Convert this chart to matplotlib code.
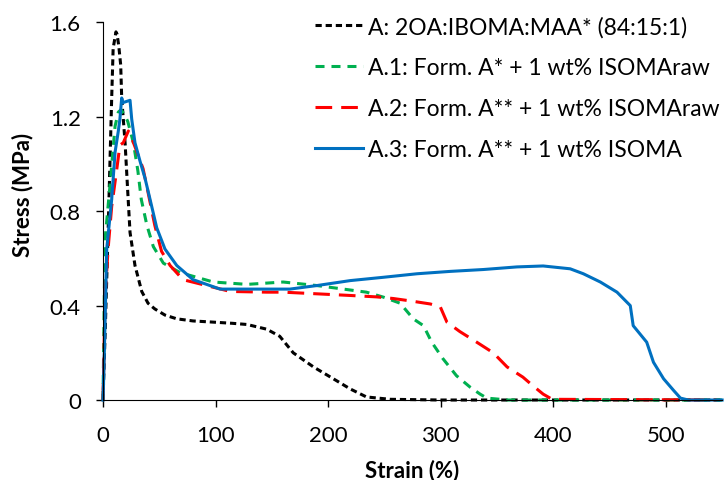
import matplotlib.pyplot as plt

plt.rcParams['font.family'] = ['Lato', 'DejaVu Sans']
plt.rcParams['lines.scale_dashes'] = False

# stress-strain curves (strain in %, stress in MPa)
strain_a = [0, 2, 4.5, 7.7, 9, 11.5, 12.5, 14, 15.7, 16.6, 19.6, 22, 24, 28.4, 34.4, 40, 46, 55,
            65.5, 80, 98, 115, 128, 145.5, 157, 169, 187, 204.6, 219.6, 234, 255, 300, 400, 550]
stress_a = [0, 0.30, 0.71, 1.28, 1.49, 1.56, 1.55, 1.50, 1.42, 1.28, 1.09, 0.88, 0.71, 0.57, 0.46,
            0.41, 0.386, 0.36, 0.344, 0.335, 0.33, 0.325, 0.32, 0.30, 0.27, 0.20, 0.14, 0.09, 0.047,
            0.013, 0.003, 0, 0, 0]

strain_a1 = [0, 1.8, 6.2, 10.7, 13.6, 16, 19, 22, 27, 31, 34, 39, 44.7, 53.6, 68.4, 98, 128, 160,
             190, 213.6, 234, 249, 264, 275.6, 284.7, 292, 302, 314, 326, 335, 341, 360, 550]
stress_a1 = [0, 0.68, 0.91, 1.16, 1.22, 1.23, 1.21, 1.18, 1.09, 0.97, 0.85, 0.74, 0.65, 0.58, 0.54,
             0.50, 0.49, 0.50, 0.485, 0.47, 0.457, 0.436, 0.41, 0.344, 0.315, 0.245, 0.175, 0.103,
             0.055, 0.025, 0.008, 0, 0]

strain_a2 = [0, 1.8, 4.5, 7.7, 12, 15, 18, 22.5, 25.5, 31, 35.6, 40, 46, 52, 59.6, 71, 92, 113,
             145.5, 160, 190, 219.6, 243, 258, 273, 290.7, 299.6, 305.5, 317, 332, 346.7, 359, 373,
             382, 391, 399, 545]
stress_a2 = [0, 0.43, 0.64, 0.82, 0.97, 1.08, 1.09, 1.14, 1.11, 1.04, 0.98, 0.88, 0.74, 0.63, 0.57,
             0.51, 0.485, 0.46, 0.457, 0.457, 0.45, 0.443, 0.437, 0.43, 0.42, 0.407, 0.395, 0.33,
             0.29, 0.245, 0.20, 0.14, 0.097, 0.06, 0.025, 0.003, 0]

strain_a3 = [0, 0.9, 3.3, 7.7, 10.7, 13.6, 15, 16.6, 17.6, 24, 25.5, 28.4, 33, 37.3, 41.8, 47.7, 55,
             65.5, 80, 104, 128, 166, 190, 219.6, 249, 279, 308.4, 338, 367.7, 391, 415, 426.7,
             441.8, 456.6, 468.4, 471, 483, 489, 498, 507, 513, 520, 550]
stress_a3 = [0, 0.145, 0.64, 0.85, 1.05, 1.14, 1.19, 1.28, 1.26, 1.27, 1.19, 1.09, 1.01, 0.94, 0.85,
             0.73, 0.64, 0.57, 0.51, 0.47, 0.47, 0.47, 0.485, 0.506, 0.52, 0.535, 0.545, 0.553,
             0.564, 0.568, 0.556, 0.535, 0.50, 0.457, 0.40, 0.315, 0.245, 0.16, 0.09, 0.04, 0.008,
             0, 0]

labels = ['A: 2OA:IBOMA:MAA* (84:15:1)',
          'A.1: Form. A* + 1 wt% ISOMAraw',
          'A.2: Form. A** + 1 wt% ISOMAraw',
          'A.3: Form. A** + 1 wt% ISOMA']

fig = plt.figure(figsize=(7.27, 4.81), dpi=100)
ax = fig.add_axes([0.1417, 0.1663, 0.9933 - 0.1417, 0.9513 - 0.1663])

lw = 2.2
ax.plot(strain_a, stress_a, color='black', lw=lw, dashes=(4.5, 2.8), label=labels[0], clip_on=False)
ax.plot(strain_a1, stress_a1, color='#00B050', lw=lw, dashes=(6.5, 5), label=labels[1], clip_on=False)
ax.plot(strain_a2, stress_a2, color='#FF0000', lw=lw, dashes=(12, 6.5), label=labels[2], clip_on=False)
ax.plot(strain_a3, stress_a3, color='#0070C0', lw=lw, label=labels[3], clip_on=False)

ax.set_xlim(0, 550)
ax.set_ylim(0, 1.6)
ax.set_xticks([0, 100, 200, 300, 400, 500])
ax.set_yticks([0, 0.4, 0.8, 1.2, 1.6])
ax.set_yticklabels(['0', '0.4', '0.8', '1.2', '1.6'])

ax.spines['top'].set_visible(False)
ax.spines['right'].set_visible(False)
ax.tick_params(direction='out', length=5, width=1, labelsize=16)
ax.tick_params(axis='x', pad=13)
ax.tick_params(axis='y', pad=11)

ax.set_xlabel('Strain (%)', fontsize=16, fontweight='bold')
ax.set_ylabel('Stress (MPa)', fontsize=16, fontweight='bold')
ax.xaxis.set_label_coords(0.5, -0.156)
ax.yaxis.set_label_coords(-0.113, 0.547)

ax.legend(loc='upper left', bbox_to_anchor=(0.4237, 0.979), bbox_transform=fig.transFigure,
          frameon=False, fontsize=16.5, handlelength=2.1, handletextpad=0.22,
          labelspacing=0.86, borderpad=0.3, borderaxespad=0)

fig.savefig('out.png', dpi=100)
